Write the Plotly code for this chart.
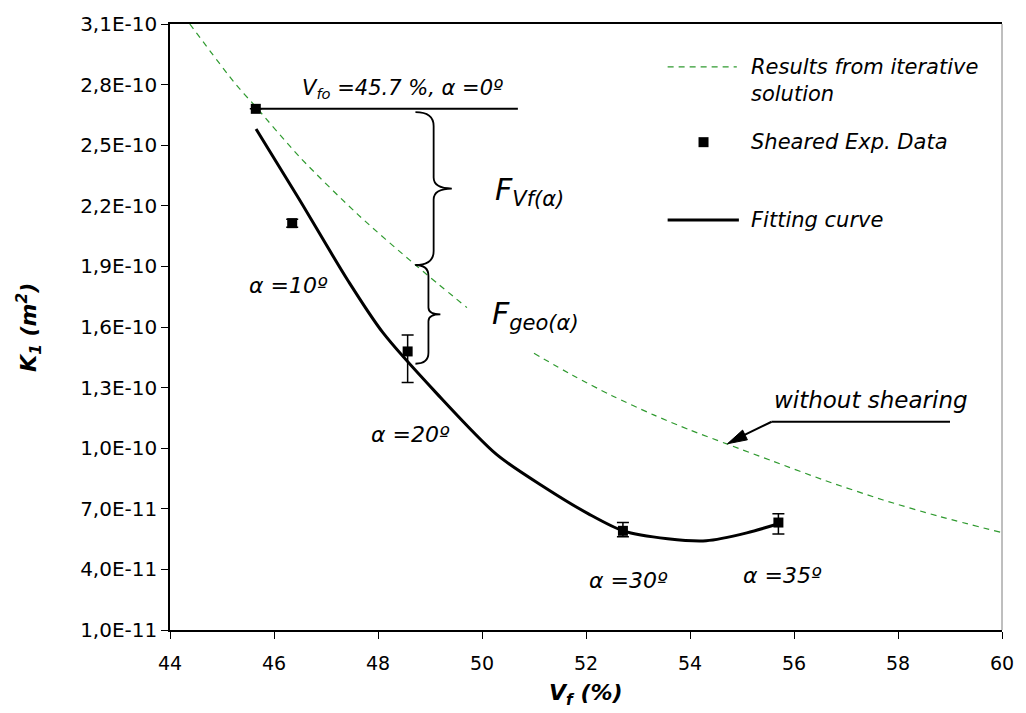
import plotly.graph_objects as go

# ---------------- data ----------------
iter_v = [44.38, 45.27, 45.65, 46.5, 47.6, 48.72, 49.71, None, 51.0, 51.75, 52.5, 53.3,
          54.0, 54.72, 55.6, 56.6, 57.7, 58.8, 60.0]
iter_k = [3.10e-10, 2.80e-10, 2.69e-10, 2.44e-10, 2.16e-10, 1.907e-10, 1.696e-10, None,
          1.470e-10, 1.360e-10, 1.260e-10, 1.165e-10, 1.090e-10, 1.020e-10, 0.935e-10,
          0.840e-10, 0.745e-10, 0.662e-10, 0.582e-10]

fit_v = [45.655, 46.473, 47.424, 48.091, 49.137, 50.279, 51.230, 52.048, 52.714, 53.570,
         54.312, 55.092, 55.701]
fit_k = [2.580e-10, 2.237e-10, 1.829e-10, 1.573e-10, 1.269e-10, 0.969e-10, 0.802e-10,
         0.675e-10, 0.591e-10, 0.552e-10, 0.542e-10, 0.581e-10, 0.626e-10]

exp_v = [45.65, 46.35, 48.57, 52.71, 55.70]
exp_k = [2.68e-10, 2.114e-10, 1.479e-10, 5.91e-11, 6.32e-11]
err_plus = [None, 2.0e-12, 8.2e-12, 4.1e-12, 4.4e-12]
err_minus = [None, 2.0e-12, 1.54e-11, 2.9e-12, 5.7e-12]

x_ticks = [44, 46, 48, 50, 52, 54, 56, 58, 60]
y_ticks = [1.0e-11, 4.0e-11, 7.0e-11, 1.0e-10, 1.3e-10, 1.6e-10, 1.9e-10, 2.2e-10,
           2.5e-10, 2.8e-10, 3.1e-10]
y_tick_text = ["1,0E-11", "4,0E-11", "7,0E-11", "1,0E-10", "1,3E-10", "1,6E-10",
               "1,9E-10", "2,2E-10", "2,5E-10", "2,8E-10", "3,1E-10"]

series_names = ["Results from iterative<br>solution", "Sheared Exp. Data", "Fitting curve"]
alpha_labels = ["α =10º", "α =20º", "α =30º", "α =35º"]

FONT = "DejaVu Sans"
GREEN = "#2f9a2f"

fig = go.Figure()

fig.add_trace(go.Scatter(x=iter_v, y=iter_k, mode="lines", connectgaps=False,
                         line=dict(color=GREEN, width=1.2, dash="6px,5px", shape="spline",
                                   smoothing=0.8),
                         showlegend=False, hoverinfo="skip"))
fig.add_trace(go.Scatter(x=fit_v, y=fit_k, mode="lines",
                         line=dict(color="black", width=3, shape="spline", smoothing=0.8),
                         showlegend=False))
fig.add_trace(go.Scatter(x=exp_v, y=exp_k, mode="markers",
                         marker=dict(symbol="square", size=10, color="black"),
                         error_y=dict(type="data", array=err_plus, arrayminus=err_minus,
                                      symmetric=False, color="black", thickness=1.5, width=6),
                         showlegend=False))

f6 = lambda v: "%.6f" % v
g18 = lambda v: "%.18f" % v


def brace(xl, xm, xt, yt, yb, r, r2):
    ym = (yt + yb) / 2
    f, g = f6, g18
    return (f"M {f(xl)},{g(yt)} Q {f(xm)},{g(yt)} {f(xm)},{g(yt - r)} "
            f"L {f(xm)},{g(ym + r2)} Q {f(xm)},{g(ym)} {f(xt)},{g(ym)} "
            f"Q {f(xm)},{g(ym)} {f(xm)},{g(ym - r2)} "
            f"L {f(xm)},{g(yb + r)} Q {f(xm)},{g(yb)} {f(xl)},{g(yb)}")


def poly(pts):
    return "M " + " L ".join(f"{f6(a)},{g18(b)}" for a, b in pts) + " Z"


shapes = [
    # reference line at alpha = 0
    dict(type="line", xref="x", yref="y", x0=exp_v[0], x1=50.69, y0=exp_k[0], y1=exp_k[0],
         line=dict(color="black", width=2)),
    # braces
    dict(type="path", xref="x", yref="y",
         path=brace(48.72, 49.07, 49.42, 2.664e-10, 1.907e-10, 0.069e-10, 0.054e-10),
         line=dict(color="black", width=1.8)),
    dict(type="path", xref="x", yref="y",
         path=brace(48.72, 48.97, 49.20, 1.907e-10, 1.418e-10, 0.054e-10, 0.034e-10),
         line=dict(color="black", width=1.8)),
    # "without shearing" leader + arrow
    dict(type="line", xref="x", yref="y", x0=55.57, x1=59.0, y0=1.131e-10, y1=1.131e-10,
         line=dict(color="black", width=2)),
    dict(type="line", xref="x", yref="y", x0=55.57, x1=55.0, y0=1.131e-10, y1=1.060e-10,
         line=dict(color="black", width=2)),
    dict(type="path", xref="x", yref="y",
         path=poly([(54.72, 1.022e-10), (55.104, 1.0415e-10), (55.012, 1.0897e-10)]),
         fillcolor="black", line=dict(color="black", width=1)),
    # right frame line
    dict(type="line", xref="paper", yref="paper", x0=1, x1=1, y0=0, y1=1,
         line=dict(color="#7f7f7f", width=1)),
    # legend samples
    dict(type="line", xref="x", yref="y", x0=53.57, x1=54.90, y0=2.888e-10, y1=2.888e-10,
         line=dict(color=GREEN, width=1.2, dash="6px,5px")),
    dict(type="rect", xref="x", yref="y", xsizemode="pixel", ysizemode="pixel",
         xanchor=54.26, yanchor=2.515e-10, x0=-5, x1=5, y0=-5, y1=5,
         fillcolor="black", line=dict(width=0)),
    dict(type="line", xref="x", yref="y", x0=53.57, x1=54.94, y0=2.130e-10, y1=2.130e-10,
         line=dict(color="black", width=3)),
]


def fnt(size):
    return dict(family=FONT, size=size, color="black")


def ital(s):
    return "<i>" + s.replace("<br>", "</i><br><i>") + "</i>"


annotations = [
    dict(x=55.13, y=2.821e-10, text=ital(series_names[0]), xanchor="left", yanchor="middle",
         align="left", font=fnt(21)),
    dict(x=55.13, y=2.515e-10, text=ital(series_names[1]), xanchor="left", yanchor="middle",
         font=fnt(21)),
    dict(x=55.13, y=2.130e-10, text=ital(series_names[2]), xanchor="left", yanchor="middle",
         font=fnt(21)),
    dict(x=48.47, y=2.777e-10, text=ital("V<sub>fo</sub> =45.7 %, α =0º"), xanchor="center",
         yanchor="middle", font=fnt(21)),
    dict(x=50.22, y=2.271e-10, text=ital("F<sub>Vf(α)</sub>"), xanchor="left",
         yanchor="middle", font=fnt(30)),
    dict(x=50.15, y=1.657e-10, text=ital("F<sub>geo(α)</sub>"), xanchor="left",
         yanchor="middle", font=fnt(30)),
    dict(x=46.28, y=1.804e-10, text=ital(alpha_labels[0]), xanchor="center", yanchor="middle",
         font=fnt(22)),
    dict(x=48.62, y=1.068e-10, text=ital(alpha_labels[1]), xanchor="center", yanchor="middle",
         font=fnt(22)),
    dict(x=52.81, y=0.346e-10, text=ital(alpha_labels[2]), xanchor="center", yanchor="middle",
         font=fnt(22)),
    dict(x=55.78, y=0.370e-10, text=ital(alpha_labels[3]), xanchor="center", yanchor="middle",
         font=fnt(22)),
    dict(x=57.48, y=1.239e-10, text=ital("without shearing"), xanchor="center",
         yanchor="middle", font=fnt(23)),
    # axis titles
    dict(xref="paper", yref="paper", x=0.5, y=-0.1064, text="<b><i>V<sub>f</sub> (%)</i></b>",
         xanchor="center", yanchor="middle", font=fnt(22)),
    dict(xref="paper", yref="paper", x=-0.1688, y=0.4994,
         text="<b><i>K<sub>1</sub> (m<sup>2</sup>)</i></b>", textangle=-90,
         xanchor="center", yanchor="middle", font=fnt(22)),
]
for a in annotations:
    a.setdefault("xref", "x")
    a.setdefault("yref", "y")
    a.setdefault("showarrow", False)

fig.update_layout(
    width=1026, height=713,
    margin=dict(l=170, r=15, t=19, b=83),
    paper_bgcolor="white", plot_bgcolor="white",
    font=dict(family=FONT, color="black"),
    shapes=shapes, annotations=annotations,
    showlegend=False,
)
fig.update_xaxes(range=[44, 60], tickvals=x_ticks, ticktext=[str(v) for v in x_ticks],
                 showgrid=False, zeroline=False, showline=True, linecolor="black",
                 linewidth=1.5, mirror=True, ticks="outside", ticklen=7, tickwidth=1,
                 tickcolor="black", tickfont=fnt(19), ticklabelstandoff=8)
fig.update_yaxes(range=[1.0e-11, 3.1e-10], tickvals=y_ticks, ticktext=y_tick_text,
                 showgrid=False, zeroline=False, showline=True, linecolor="black",
                 linewidth=1.5, ticks="outside", ticklen=7, tickwidth=1, tickcolor="black",
                 tickfont=fnt(20))

fig.write_html("out.html", config={"displayModeBar": False})
